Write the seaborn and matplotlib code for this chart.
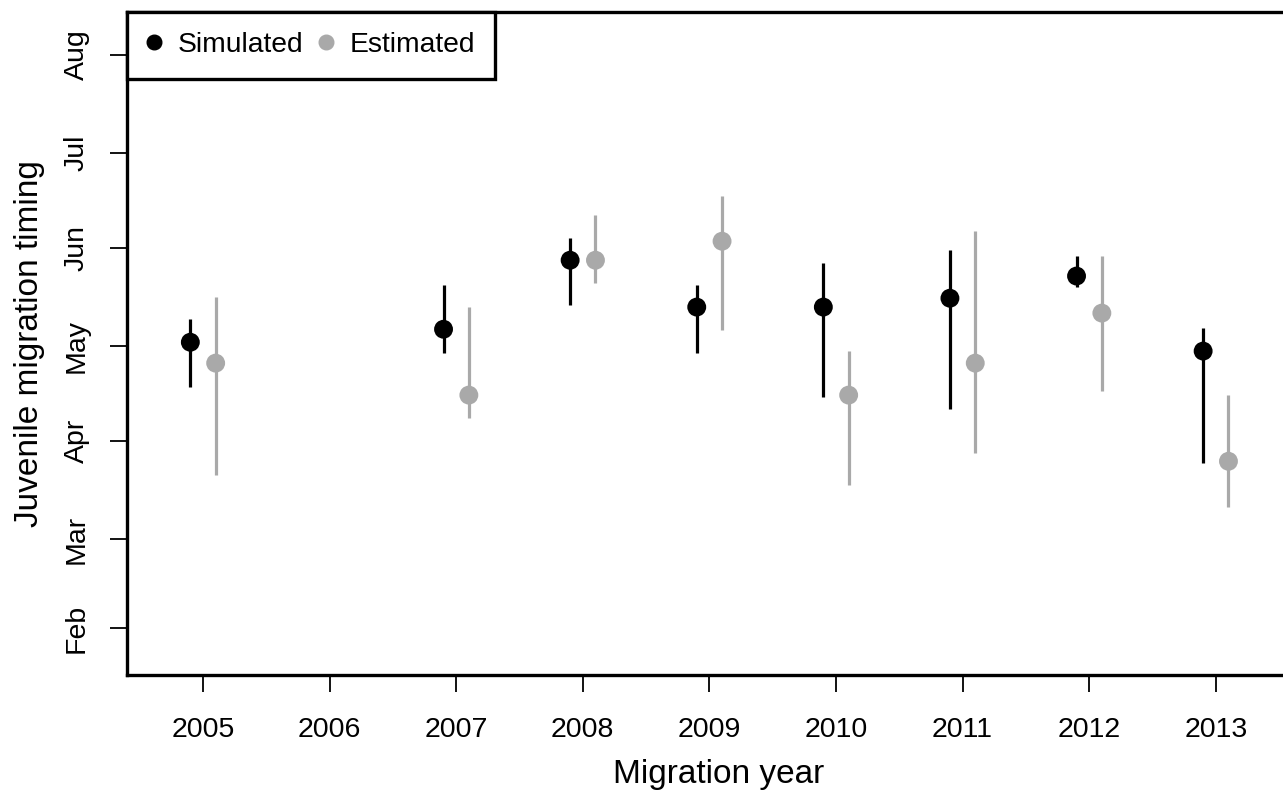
import matplotlib
matplotlib.use("Agg")
import matplotlib.pyplot as plt
import seaborn as sns
import pandas as pd
import numpy as np
from matplotlib.lines import Line2D

years = [2005, 2007, 2008, 2009, 2010, 2011, 2012, 2013]
sim_mid = [122.3, 126.4, 148.2, 133.4, 133.4, 136.2, 143.2, 119.5]
sim_lo = [108.1, 118.9, 134.0, 118.9, 105.0, 101.2, 139.7, 84.1]
sim_hi = [129.6, 140.3, 155.2, 140.3, 147.3, 151.4, 149.5, 126.8]
est_mid = [115.7, 105.6, 148.2, 154.2, 105.6, 115.7, 131.5, 84.7]
est_lo = [80.3, 98.3, 141.0, 126.1, 77.2, 87.3, 106.9, 70.2]
est_hi = [136.5, 133.4, 162.5, 168.5, 119.5, 157.4, 149.5, 105.6]
xtick_years = [2005, 2006, 2007, 2008, 2009, 2010, 2011, 2012, 2013]
month_days = [32, 60, 91, 121, 152, 182, 213]
month_labels = ["Feb", "Mar", "Apr", "May", "Jun", "Jul", "Aug"]

sns.set_style("ticks")
plt.rcParams['font.family'] = ['Liberation Sans', 'DejaVu Sans']
for k in ["text.color", "axes.labelcolor", "xtick.color", "ytick.color", "axes.edgecolor"]:
    plt.rcParams[k] = "black"

df = pd.DataFrame({
    "year": years * 2,
    "mid": sim_mid + est_mid,
    "lo": sim_lo + est_lo,
    "hi": sim_hi + est_hi,
    "type": ["Simulated"] * len(years) + ["Estimated"] * len(years),
})
offset = {"Simulated": -0.1, "Estimated": 0.1}
df["xpos"] = df["year"] + df["type"].map(offset)
palette = {"Simulated": "#000000", "Estimated": "#A9A9A9"}

fig = plt.figure(figsize=(12.83, 7.9), dpi=100)
ax = fig.add_axes([127 / 1283, 115 / 790, (1310 - 127) / 1283, 663 / 790])

for t, g in df.groupby("type"):
    ax.vlines(g["xpos"], g["lo"], g["hi"], color=palette[t], lw=2.3, zorder=2)

sns.scatterplot(data=df, x="xpos", y="mid", hue="type", palette=palette,
                hue_order=["Simulated", "Estimated"], s=185, edgecolor="none",
                ax=ax, zorder=3, legend=False)

ax.set_xlim(2005 - 76 / 126.6, 2005 + (1310 - 203) / 126.6)
ax.set_ylim(17.2, 226.6)
ax.set_xticks(xtick_years)
ax.set_xticklabels([str(y) for y in xtick_years], fontsize=20.5)
ax.set_yticks(month_days)
ax.set_yticklabels(month_labels, fontsize=20.5, rotation=90, va="center")
ax.tick_params(axis="both", length=12, width=1.3, direction="out")
ax.tick_params(axis="x", pad=18)
ax.tick_params(axis="y", pad=15)
for s in ax.spines.values():
    s.set_linewidth(2.4)
    s.set_color("black")

ax.set_xlabel("Migration year", fontsize=24, labelpad=12)
ax.set_ylabel("Juvenile migration timing", fontsize=24, labelpad=13)

handles = [Line2D([], [], marker="o", ls="", color=palette[k], markersize=10.5)
           for k in ["Simulated", "Estimated"]]
leg = ax.legend(handles, ["Simulated", "Estimated"], loc="upper left", ncol=2,
                fontsize=20.3, frameon=True, fancybox=False, borderaxespad=0,
                handletextpad=0.62, columnspacing=0.58, handlelength=0.45,
                borderpad=0.72, framealpha=1)
leg.get_frame().set_edgecolor("black")
leg.get_frame().set_linewidth(2.4)

fig.savefig("out.png", dpi=100)
